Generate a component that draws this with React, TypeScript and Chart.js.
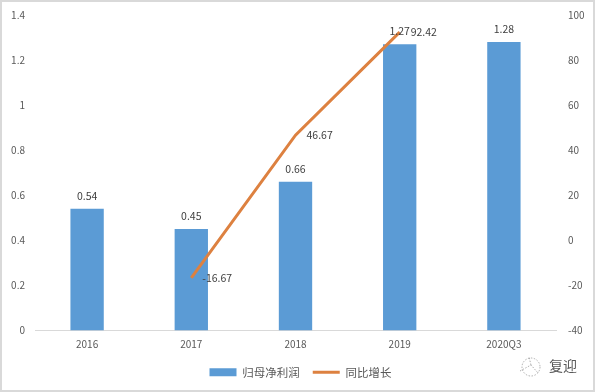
import React, { useEffect, useRef } from "react";
import { Chart, registerables } from "chart.js";

Chart.register(...registerables);

const categories = ["2016", "2017", "2018", "2019", "2020Q3"];
const profit = [0.54, 0.45, 0.66, 1.27, 1.28];
const growth = [null, -16.67, 46.67, 92.42, null];
const profitLabels = ["0.54", "0.45", "0.66", "1.27", "1.28"];
const growthLabels = ["", "-16.67", "46.67", "92.42", ""];
const seriesNames = ["归母净利润", "同比增长"];

const FONT = "'Noto Sans CJK SC', 'Noto Sans', sans-serif";
const TEXT = "#595959";

const framePlugin = {
  id: "frame",
  afterLayout(chart: any) {
    chart.legend.left += 3;
    chart.legend.right += 3;
  },
  beforeDraw(chart: any) {
    const { ctx, width, height } = chart;
    ctx.save();
    ctx.fillStyle = "#ffffff";
    ctx.fillRect(0, 0, width, height);
    ctx.strokeStyle = "#d9d9d9";
    ctx.lineWidth = 2;
    ctx.strokeRect(1, 1, width - 2, height - 2);
    ctx.restore();
  },
};

const labelPlugin = {
  id: "valueLabels",
  afterDatasetsDraw(chart: any) {
    const { ctx, scales } = chart;
    ctx.save();
    ctx.font = `10.5px ${FONT}`;
    ctx.fillStyle = "#404040";
    ctx.textBaseline = "middle";
    ctx.textAlign = "center";
    profit.forEach((v, i) => {
      ctx.fillText(profitLabels[i], scales.x.getPixelForValue(i), scales.y.getPixelForValue(v) - 13);
    });
    ctx.textAlign = "left";
    growth.forEach((v, i) => {
      if (v === null) return;
      ctx.fillText(growthLabels[i], scales.x.getPixelForValue(i) + 11, scales.y1.getPixelForValue(v));
    });
    ctx.restore();
  },
};

const watermarkPlugin = {
  id: "watermark",
  afterDraw(chart: any) {
    const { ctx } = chart;
    ctx.save();
    ctx.strokeStyle = "#8c8c8c";
    ctx.lineWidth = 0.7;
    ctx.setLineDash([1.5, 1.5]);
    ctx.beginPath();
    ctx.arc(531, 367, 9, 0, Math.PI * 2);
    ctx.moveTo(520, 371);
    ctx.lineTo(531, 365);
    ctx.lineTo(538, 373);
    ctx.moveTo(531, 365);
    ctx.lineTo(529, 357);
    ctx.stroke();
    ctx.setLineDash([]);
    ctx.font = `14px ${FONT}`;
    ctx.fillStyle = "#595959";
    ctx.textAlign = "left";
    ctx.textBaseline = "middle";
    ctx.fillText("复迎", 549, 366);
    ctx.restore();
  },
};

const plainTick = (v: any) => String(Number(Number(v).toFixed(1)));

export default function App() {
  const ref = useRef<HTMLCanvasElement>(null);
  useEffect(() => {
    const chart = new Chart(ref.current as HTMLCanvasElement, {
      type: "bar",
      data: {
        labels: categories,
        datasets: [
          {
            type: "line",
            label: seriesNames[1],
            data: growth,
            yAxisID: "y1",
            borderColor: "#dd8140",
            backgroundColor: "#dd8140",
            borderWidth: 3,
            pointRadius: 0,
            pointStyle: "line",
            tension: 0,
            order: 0,
          },
          {
            type: "bar",
            label: seriesNames[0],
            data: profit,
            yAxisID: "y",
            backgroundColor: "#5b9bd5",
            barPercentage: 0.32,
            categoryPercentage: 1,
            pointStyle: "rect",
            order: 1,
          },
        ] as any,
      },
      options: {
        responsive: false,
        animation: false,
        layout: { padding: { top: 15, bottom: 4 } },
        plugins: {
          title: { display: false },
          tooltip: { enabled: false },
          legend: {
            position: "bottom",
            reverse: true,
            labels: {
              usePointStyle: true,
              pointStyleWidth: 27,
              boxHeight: 8,
              color: TEXT,
              font: { family: FONT, size: 11.5 },
              padding: 13,
            },
          },
        },
        scales: {
          x: {
            grid: { display: false },
            border: { display: true, color: "#d9d9d9" },
            ticks: { color: TEXT, font: { family: FONT, size: 10 }, padding: 0, maxRotation: 0 },
            afterFit(s: any) { s.height = 23; },
          },
          y: {
            position: "left",
            min: 0,
            max: 1.4,
            grid: { display: false },
            border: { display: false },
            ticks: { stepSize: 0.2, color: TEXT, font: { family: FONT, size: 10 }, padding: 2, callback: plainTick },
            afterFit(s: any) { s.width = 35; },
          },
          y1: {
            position: "right",
            min: -40,
            max: 100,
            grid: { display: false },
            border: { display: false },
            ticks: { stepSize: 20, color: TEXT, font: { family: FONT, size: 10 }, padding: 4 },
            afterFit(s: any) { s.width = 39; },
          },
        },
      },
      plugins: [framePlugin, labelPlugin, watermarkPlugin],
    } as any);
    return () => chart.destroy();
  }, []);
  return (
    <div style={{ position: "fixed", left: 0, top: 0, width: 595, height: 392 }}>
      <canvas ref={ref} width={595} height={392} style={{ display: "block" }} />
    </div>
  );
}
